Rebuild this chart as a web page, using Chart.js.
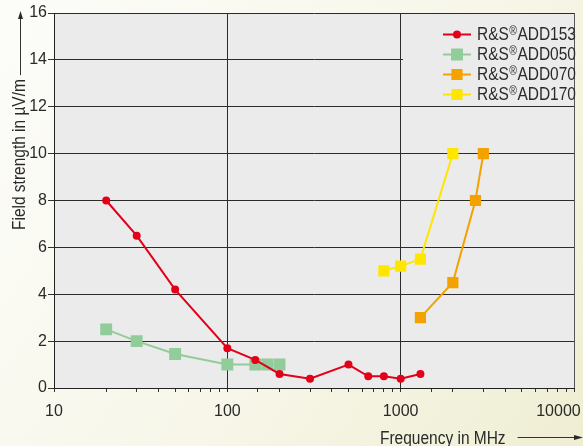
<!DOCTYPE html>
<html>
<head>
<meta charset="utf-8">
<script src="https://cdn.jsdelivr.net/npm/chart.js@4/dist/chart.umd.min.js"></script>
<style>
  html, body { margin: 0; padding: 0; background: #f7f7ec; }
  #wrap { width: 583px; height: 446px; position: relative; }
</style>
</head>
<body>
<div id="wrap"><canvas id="myChart" width="583" height="446"></canvas></div>
<script>
// series data (frequency in MHz, field strength in µV/m)
var add153Freq = [20, 30, 50, 100, 145, 200, 300, 500, 650, 800, 1000, 1300];
var add153Val  = [8, 6.5, 4.2, 1.7, 1.2, 0.6, 0.4, 1.0, 0.5, 0.5, 0.4, 0.6];

var add050Freq = [20, 30, 50, 100, 145, 170, 200];
var add050Val  = [2.5, 2, 1.45, 1, 1, 1, 1];

var add070Freq = [1300, 2000, 2700, 3000];
var add070Val  = [3, 4.5, 8, 10];

var add170Freq = [800, 1000, 1300, 2000];
var add170Val  = [5, 5.2, 5.5, 10];

var seriesNames = ['ADD153', 'ADD050', 'ADD070', 'ADD170'];
var xDecades = [10, 100, 1000, 10000];

var FONT = "'Liberation Sans', Arial, sans-serif";
var TEXT = '#2a2a2a';
var SQ = 0.86; // the original lettering is a condensed face

function pts(xs, ys) {
    return xs.map(function (x, i) { return { x: x, y: ys[i] }; });
}

// draws squeezed text, returns its width
function squeezed(c, str, x, y) {
    c.save();
    c.translate(x, y);
    c.scale(SQ, 1);
    c.fillText(str, 0, 0);
    c.restore();
    return c.measureText(str).width * SQ;
}

// page background, plot background
var backPlugin = {
    id: 'back',
    beforeDraw: function (chart) {
        var c = chart.ctx, a = chart.chartArea;
        var g = c.createLinearGradient(0, 60, 583, 446);
        g.addColorStop(0, '#fcfcf9');
        g.addColorStop(0.55, '#f7f6e8');
        g.addColorStop(1, '#efeed3');
        c.save();
        c.fillStyle = g;
        c.fillRect(0, 0, chart.width, chart.height);
        c.fillStyle = '#ebebeb';
        c.fillRect(a.left, a.top, a.right - a.left, a.bottom - a.top);
        c.restore();
    }
};

// legend box in the upper right corner of the plot
var legendPlugin = {
    id: 'boxLegend',
    beforeDatasetsDraw: function (chart) {
        var c = chart.ctx, a = chart.chartArea;
        var x0 = 403, y0 = a.top + 1;
        c.save();
        c.fillStyle = '#ebebeb';
        c.fillRect(x0, y0, a.right - x0 - 0.5, 90);
        chart.data.datasets.forEach(function (ds, i) {
            var y = 34.5 + i * 20;
            c.strokeStyle = ds.borderColor;
            c.lineWidth = 2;
            c.beginPath();
            c.moveTo(443, y);
            c.lineTo(471, y);
            c.stroke();
            c.fillStyle = ds.backgroundColor;
            c.strokeStyle = ds.backgroundColor;
            Chart.helpers.drawPoint(c, { pointStyle: ds.pointStyle, radius: ds.pointRadius, borderWidth: 1, rotation: 0 }, 457, y);
            c.fillStyle = TEXT;
            c.textBaseline = 'middle';
            c.textAlign = 'left';
            c.font = '18px ' + FONT;
            var tx = 477;
            tx += squeezed(c, 'R&S', tx, y + 1) + 0.5;
            c.font = '12px ' + FONT;
            tx += squeezed(c, '\u00AE', tx, y - 3) + 0.5;
            c.font = '18px ' + FONT;
            squeezed(c, seriesNames[i], tx, y + 1);
        });
        c.restore();
    }
};

// axis titles with arrows
var titlePlugin = {
    id: 'arrowTitles',
    afterDraw: function (chart) {
        var c = chart.ctx;
        c.save();
        c.fillStyle = TEXT;
        c.strokeStyle = '#333';
        c.lineWidth = 1;
        c.font = '18px ' + FONT;

        // y title, reading upwards
        var yt = 'Field strength in \u00B5V/m';
        c.save();
        c.translate(20, 230);
        c.rotate(-Math.PI / 2);
        c.textAlign = 'left';
        c.textBaseline = 'middle';
        var w = squeezed(c, yt, 0, 0);
        c.restore();
        c.beginPath();
        c.moveTo(20.5, 230 - w - 4);
        c.lineTo(20.5, 18);
        c.stroke();
        c.beginPath();
        c.moveTo(20.5, 11);
        c.lineTo(23, 19);
        c.lineTo(18, 19);
        c.closePath();
        c.fill();

        // x title, reading right
        c.textAlign = 'left';
        c.textBaseline = 'alphabetic';
        var xe = 380 + squeezed(c, 'Frequency in MHz', 380, 444) + 12;
        c.beginPath();
        c.moveTo(xe, 437.5);
        c.lineTo(575, 437.5);
        c.stroke();
        c.beginPath();
        c.moveTo(583, 437.5);
        c.lineTo(574, 435);
        c.lineTo(574, 440);
        c.closePath();
        c.fill();
        c.restore();
    }
};

var ctx = document.getElementById('myChart');
var myChart = new Chart(ctx, {
    type: 'line',
    data: {
        datasets: [{
                label: 'R&S®ADD153',
                data: pts(add153Freq, add153Val),
                borderColor: '#e2001a',
                backgroundColor: '#e2001a',
                borderWidth: 2,
                pointStyle: 'circle',
                pointRadius: 3
            }, {
                label: 'R&S®ADD050',
                data: pts(add050Freq, add050Val),
                borderColor: '#92cc9a',
                backgroundColor: '#92cc9a',
                borderWidth: 2,
                pointStyle: 'rect',
                pointRadius: 7
            }, {
                label: 'R&S®ADD070',
                data: pts(add070Freq, add070Val),
                borderColor: '#f3a200',
                backgroundColor: '#f3a200',
                borderWidth: 2,
                pointStyle: 'rect',
                pointRadius: 6.5
            }, {
                label: 'R&S®ADD170',
                data: pts(add170Freq, add170Val),
                borderColor: '#ffe600',
                backgroundColor: '#ffe600',
                borderWidth: 2,
                pointStyle: 'rect',
                pointRadius: 6.5
            }
        ]
    },
    options: {
        responsive: false,
        animation: false,
        events: [],
        layout: { padding: { top: 13, right: 9, left: 0, bottom: 0 } },
        plugins: {
            legend: { display: false },
            tooltip: { enabled: false }
        },
        scales: {
            x: {
                type: 'logarithmic',
                min: 10,
                max: 10000,
                border: { color: '#222', width: 1 },
                grid: {
                    color: function (c) {
                        var v = c.tick && c.tick.value;
                        if (v === 100 || v === 1000) return '#2b2b2b';
                        if (v === 10000) return '#555';
                        return 'rgba(0,0,0,0)';
                    },
                    tickColor: '#333',
                    tickLength: 4,
                    drawTicks: true
                },
                ticks: {
                    autoSkip: false,
                    maxRotation: 0,
                    padding: 10,
                    color: TEXT,
                    font: { family: FONT, size: 16 },
                    callback: function (v) {
                        if (xDecades.indexOf(v) < 0) return '';
                        // last label is pulled back inside the picture
                        return v === 10000 ? '10000       ' : String(v);
                    }
                },
                afterFit: function (s) {
                    s.height = 58;
                    s.paddingLeft = 0;
                    s.paddingRight = 0;
                }
            },
            y: {
                min: 0,
                max: 16,
                border: { color: '#222', width: 1 },
                grid: { color: '#2b2b2b', tickColor: '#333', tickLength: 6 },
                ticks: {
                    stepSize: 2,
                    padding: 1,
                    color: TEXT,
                    font: { family: FONT, size: 16 }
                },
                afterFit: function (s) {
                    s.width = 54;
                    s.paddingTop = 0;
                    s.paddingBottom = 0;
                }
            }
        }
    },
    plugins: [backPlugin, legendPlugin, titlePlugin]
});
</script>
</body>
</html>
